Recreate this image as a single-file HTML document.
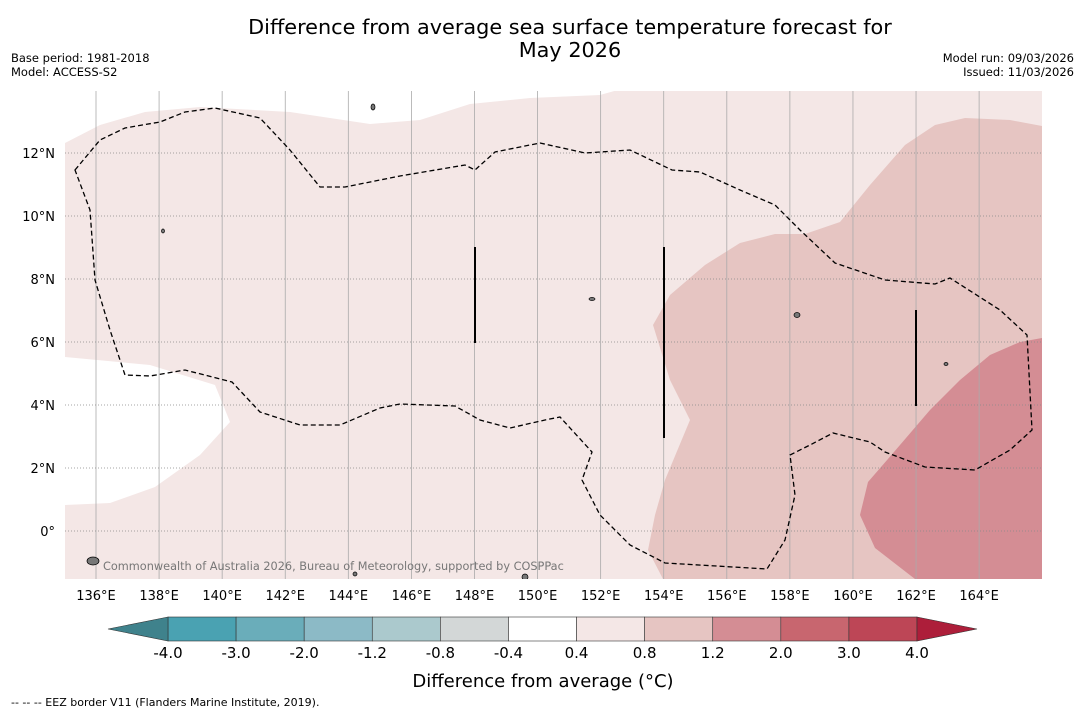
<!DOCTYPE html>
<html><head><meta charset="utf-8"><style>
body{margin:0;background:#fff;font-family:"DejaVu Sans","Liberation Sans",sans-serif;}
svg text{font-family:"DejaVu Sans","Liberation Sans",sans-serif;}
</style></head><body>
<svg id="c" width="1085" height="713" xmlns="http://www.w3.org/2000/svg">
<rect width="1085" height="713" fill="#fff"/>
<text x="570" y="34" font-size="20.8" text-anchor="middle">Difference from average sea surface temperature forecast for</text>
<text x="570" y="57" font-size="20.8" text-anchor="middle">May 2026</text>
<text x="11" y="62" font-size="11.5">Base period: 1981-2018</text>
<text x="11" y="76" font-size="11.5">Model: ACCESS-S2</text>
<text x="1074" y="62" font-size="11.5" text-anchor="end">Model run: 09/03/2026</text>
<text x="1074" y="76" font-size="11.5" text-anchor="end">Issued: 11/03/2026</text>
<g id="map">
<clipPath id="cp"><rect x="65" y="91" width="977" height="488"/></clipPath>
<g clip-path="url(#cp)">
<polygon fill="#f4e7e6" points="65,143 100,125 145,112 200,107 290,112 370,124 420,120 470,104 530,98 600,95 625,88 1042,88 1042,579 65,579 65,505 110,503 155,487 200,455 230,422 215,385 150,365 65,357"/>
<polygon fill="#e6c5c2" points="663,579 648,550 655,515 665,480 690,420 670,380 653,325 670,295 705,265 740,243 775,234 805,234 840,222 870,185 905,145 935,125 965,118 1010,120 1042,126 1042,579"/>
<polygon fill="#d48d94" points="1042,338 1020,342 990,355 960,380 930,410 900,445 868,482 860,515 875,548 915,579 1042,579"/>
<g id="grid"></g>
<polygon fill="none" stroke="#000" stroke-width="1.3" stroke-dasharray="5,3" points="75,170 100,140 125,128 160,122 185,112 215,108 260,118 290,150 320,187 345,187 400,176 465,165 475,170 495,152 540,143 585,153 630,150 672,170 700,172 740,190 775,205 800,230 835,263 885,280 935,284 950,278 1000,310 1027,335 1032,430 1010,450 975,470 925,467 885,452 870,442 833,433 810,445 790,455 795,495 785,540 767,569 665,563 630,545 600,515 582,480 592,452 560,417 545,420 510,428 480,420 455,406 400,404 380,408 340,425 300,425 260,412 232,382 185,370 150,376 125,375 110,330 95,280 90,210"/>
<g stroke="#000" stroke-width="2">
<line x1="475" y1="247" x2="475" y2="343"/><line x1="664" y1="247" x2="664" y2="438"/><line x1="916" y1="310" x2="916" y2="406"/>
</g>
<g fill="#777" stroke="#000" stroke-width="0.7">
<ellipse cx="373" cy="107" rx="2" ry="3"/><ellipse cx="797" cy="315" rx="3" ry="2.5"/><ellipse cx="592" cy="299" rx="3" ry="1.5"/><ellipse cx="163" cy="231" rx="1.5" ry="2"/><ellipse cx="946" cy="364" rx="2" ry="1.5"/><ellipse cx="93" cy="561" rx="6" ry="4"/><ellipse cx="525" cy="577" rx="3" ry="3"/><ellipse cx="355" cy="574" rx="2" ry="2"/>
</g>
</g>
<text x="103" y="570" font-size="11.3" fill="#777">Commonwealth of Australia 2026, Bureau of Meteorology, supported by COSPPac</text>
</g>
<g id="cbar"></g>
<text x="543" y="687" font-size="18" text-anchor="middle">Difference from average (°C)</text>
<text x="11" y="706" font-size="11">--  --  -- EEZ border V11 (Flanders Marine Institute, 2019).</text>
</svg>
<script>
const lonTicks=[136,138,140,142,144,146,148,150,152,154,156,158,160,162,164];
const latTicks=[0,2,4,6,8,10,12];
const levels=["-4.0","-3.0","-2.0","-1.2","-0.8","-0.4","0.4","0.8","1.2","2.0","3.0","4.0"];
const colors=["#4aa2b2","#6aadba","#8cbac6","#abc9cd","#d3d7d7","#ffffff","#f4e7e6","#e6c5c2","#d48d94","#c8666f","#bd4656"];
const underColor="#3f828c", overColor="#ad1e3a";
const NS="http://www.w3.org/2000/svg";
const x=lon=>96+(lon-136)*31.54, y=lat=>531-lat*31.5;
const g=document.getElementById('grid'), svg=document.getElementById('c');
function el(t,a,p){const e=document.createElementNS(NS,t);for(const k in a)e.setAttribute(k,a[k]);p.appendChild(e);return e;}
lonTicks.forEach(l=>{
 const ln=el('line',{x1:x(l),x2:x(l),y1:91,y2:579,stroke:'#aaa','stroke-width':0.8},g);
 
 
 const t=el('text',{x:x(l),y:600,'font-size':13,'text-anchor':'middle'},svg);t.textContent=l+'°E';
 
 
});
latTicks.forEach(l=>{
 const ln=el('line',{x1:65,x2:1042,y1:y(l),y2:y(l),stroke:'#888','stroke-width':0.8,'stroke-dasharray':'1,2'},g);
 
 
 const t=el('text',{x:55,y:y(l)+5,'font-size':13,'text-anchor':'end'},svg);t.textContent=l===0?'0°':l+'°N';
 
 
});
const cb=document.getElementById('cbar');const x0=168,x1=917,w=(x1-x0)/colors.length,yt=617,yb=641;
colors.forEach((c,i)=>{const r=el('rect',{x:x0+i*w,y:yt,width:w,height:yb-yt,fill:c,stroke:'#333','stroke-width':0.6},cb);
 
 });
const lt=el('polygon',{points:`${x0},${yt} 108,629 ${x0},${yb}`,fill:underColor,stroke:'#333','stroke-width':0.6},cb);


const rt=el('polygon',{points:`${x1},${yt} 977,629 ${x1},${yb}`,fill:overColor,stroke:'#333','stroke-width':0.6},cb);


levels.forEach((l,i)=>{const t=el('text',{x:x0+i*w,y:658,'font-size':15,'text-anchor':'middle'},cb);t.textContent=l;
 
 });
</script>
</body></html>
